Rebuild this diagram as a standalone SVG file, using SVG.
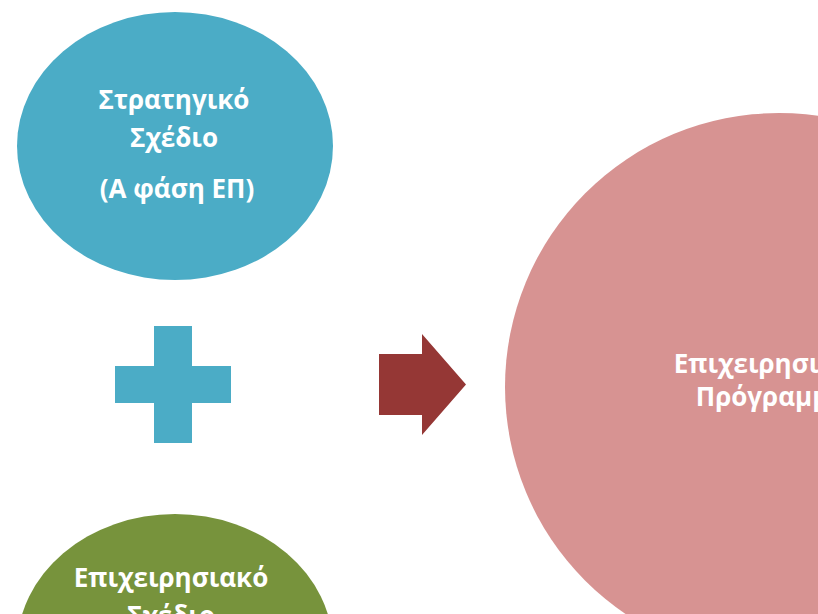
<svg xmlns="http://www.w3.org/2000/svg" width="818" height="614" viewBox="0 0 818 614">
<style>
.lbl{font-family:"Open Sans","Noto Sans","Liberation Sans",sans-serif;font-weight:bold;font-size:26px;fill:#ffffff;text-anchor:middle}
</style>
<rect x="0" y="0" width="818" height="614" fill="#ffffff"/>
<g id="node-pink">
<circle cx="779" cy="387" r="274" fill="#D79392"/>
<text class="lbl" x="771" y="373">Επιχειρησιακό</text>
<text class="lbl" x="771" y="406">Πρόγραμμα</text>
</g>
<g id="node-blue">
<ellipse cx="175" cy="146" rx="158" ry="134" fill="#4BACC6"/>
<text class="lbl" x="174" y="109">Στρατηγικό</text>
<text class="lbl" x="174" y="147">Σχέδιο</text>
<text class="lbl" x="177" y="198">(Α φάση ΕΠ)</text>
</g>
<g id="node-green">
<ellipse cx="175" cy="648" rx="158" ry="134" fill="#77933C"/>
<text class="lbl" x="171" y="587">Επιχειρησιακό</text>
<text class="lbl" x="171" y="625">Σχέδιο</text>
</g>
<g id="plus">
<path d="M154,326 H192 V366 H231 V403 H192 V443 H154 V403 H115 V366 H154 Z" fill="#4BACC6"/>
</g>
<g id="connectors">
<path d="M379,354 H422 V334 L466,384.5 L422,435 V415 H379 Z" fill="#953735"/>
</g>
</svg>
